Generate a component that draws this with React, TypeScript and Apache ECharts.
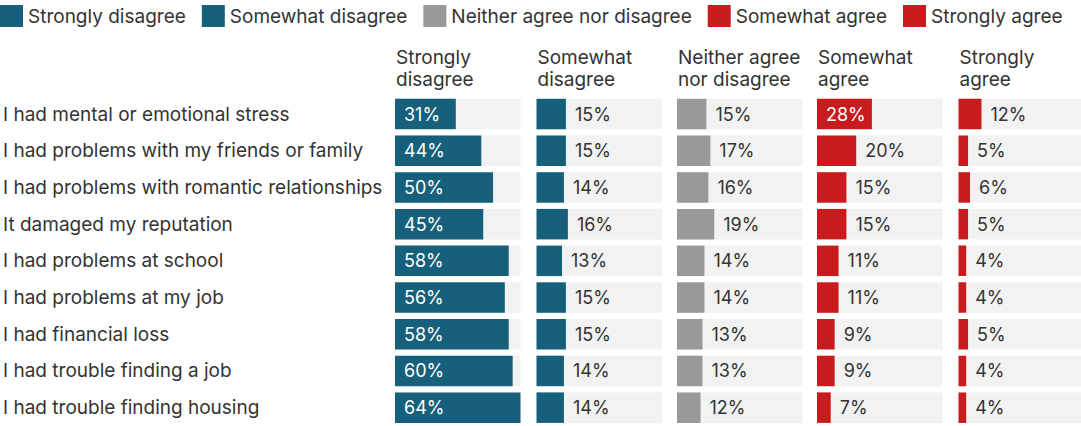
import React, { useEffect, useRef } from "react";
import * as echarts from "echarts";

const categories = [
  "I had mental or emotional stress",
  "I had problems with my friends or family",
  "I had problems with romantic relationships",
  "It damaged my reputation",
  "I had problems at school",
  "I had problems at my job",
  "I had financial loss",
  "I had trouble finding a job",
  "I had trouble finding housing",
];

const seriesNames = [
  "Strongly disagree",
  "Somewhat disagree",
  "Neither agree nor disagree",
  "Somewhat agree",
  "Strongly agree",
];

const headerLabels = [
  "Strongly\ndisagree",
  "Somewhat\ndisagree",
  "Neither agree\nnor disagree",
  "Somewhat\nagree",
  "Strongly\nagree",
];

const stronglyDisagree = [31, 44, 50, 45, 58, 56, 58, 60, 64];
const somewhatDisagree = [15, 15, 14, 16, 13, 15, 15, 14, 14];
const neitherAgree = [15, 17, 16, 19, 14, 14, 13, 13, 12];
const somewhatAgree = [28, 20, 15, 15, 11, 11, 9, 9, 7];
const stronglyAgree = [12, 5, 6, 5, 4, 4, 5, 4, 4];

const seriesValues = [stronglyDisagree, somewhatDisagree, neitherAgree, somewhatAgree, stronglyAgree];
const seriesColors = ["#17607b", "#17607b", "#999999", "#c81b1e", "#c81b1e"];

const AXIS_MAX = 64;
const FONT = "Inter";
const FS = 19;

export default function App() {
  const ref = useRef<HTMLDivElement>(null);

  useEffect(() => {
    document.body.style.margin = "0";
    if (!ref.current) return;
    const chart = echarts.init(ref.current, null, { renderer: "svg" });

    const panelLefts = [395, 536.5, 677, 817, 958.5];
    const panelWidth = 125.5;
    const rowPitch = 37.09;
    const gridTop = 95.7;

    const grids = panelLefts.map((l) => ({
      left: l,
      top: gridTop,
      width: panelWidth,
      height: rowPitch * categories.length,
      containLabel: false,
    }));

    const xAxes = panelLefts.map((_, i) => ({
      type: "value",
      gridIndex: i,
      min: 0,
      max: AXIS_MAX,
      show: false,
    }));

    const yAxes = panelLefts.map((_, i) => ({
      type: "category",
      gridIndex: i,
      data: categories,
      inverse: true,
      axisLine: { show: false },
      axisTick: { show: false },
      splitLine: { show: false },
      axisLabel: {
        show: i === 0,
        align: "left",
        margin: 392,
        fontFamily: FONT,
        fontSize: FS,
        color: "#333333",
      },
    }));

    const series = seriesValues.map((vals, i) => ({
      type: "bar",
      name: seriesNames[i],
      xAxisIndex: i,
      yAxisIndex: i,
      barWidth: 30.5,
      color: seriesColors[i],
      showBackground: true,
      backgroundStyle: { color: "#f2f2f2" },
      data: vals.map((v) => {
        const inside = v >= 25;
        return {
          value: v,
          label: {
            show: true,
            position: inside ? "insideLeft" : "right",
            distance: 9,
            color: inside ? "#ffffff" : "#333333",
            fontFamily: FONT,
            fontSize: 18,
            formatter: "{c}%",
          },
        };
      }),
    }));

    const headers = panelLefts.map((l, i) => ({
      type: "text",
      left: l + 1,
      top: 46,
      style: {
        text: headerLabels[i],
        font: `${FS}px ${FONT}`,
        lineHeight: 22,
        fill: "#333333",
      },
    }));

    chart.setOption({
      animation: false,
      legend: {
        data: seriesNames,
        left: 0,
        top: 5,
        icon: "rect",
        itemWidth: 23,
        itemHeight: 22,
        itemGap: 16,
        padding: 0,
        textStyle: { fontFamily: FONT, fontSize: FS, color: "#333333" },
      },
      grid: grids,
      xAxis: xAxes,
      yAxis: yAxes,
      series,
      graphic: headers,
    });

    return () => chart.dispose();
  }, []);

  return <div ref={ref} style={{ width: 1081, height: 426 }} />;
}
